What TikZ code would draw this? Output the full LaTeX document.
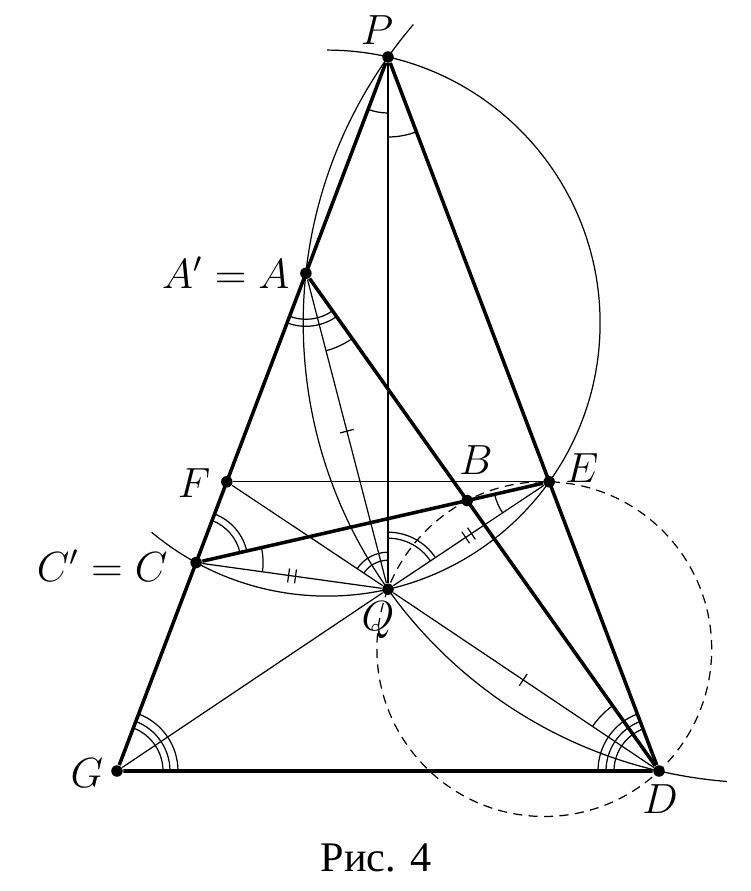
\documentclass[tikz,border=0pt]{standalone}
\usepackage{fontspec}
\newfontfamily\cyrfont{Liberation Serif}
\usetikzlibrary{positioning,angles,decorations.markings}

\begin{document}
\begin{tikzpicture}[line width=0.35pt,
	dot/.style={circle,fill,inner sep=0pt,minimum size=0.115cm},
	thickline/.style={line width=1pt},
	lbl/.style={inner sep=0pt,anchor=base,font=\large},
	onetick/.style={postaction={decorate,decoration={markings,
		mark=at position 0.5 with {\draw (0,-0.07) -- (0,0.07);}}}},
	twoticks/.style={postaction={decorate,decoration={markings,
		mark=at position 0.5 with {\draw (-0.035,-0.07) -- (-0.035,0.07)
		                               (0.035,-0.07) -- (0.035,0.07);}}}}]
\useasboundingbox (0,0) rectangle (7.51,8.91);

\node[dot] (P) at (3.88,8.34) {};
\node[dot] (A) at (3.059,6.177) {};
\node[dot] (F) at (2.268,4.092) {};
\node[dot] (E) at (5.492,4.092) {};
\node[dot] (B) at (4.672,3.904) {};
\node[dot] (C) at (1.961,3.284) {};
\node[dot] (Q) at (3.88,3.018) {};
\node[dot] (G) at (1.17,1.20) {};
\node[dot] (D) at (6.59,1.20) {};

\coordinate (O1) at (3.271,5.679);
\coordinate (O2) at (7.630,5.679);
\coordinate (O3) at (5.443,2.419);

\node[lbl] (PLabel) at (3.77,8.46) {$P$};
\node[lbl,anchor=base east] (ALabel) at (2.90,6.03) {$A'=A$};
\node[lbl] (FLabel) at (1.94,3.94) {$F$};
\node[lbl] (BLabel) at (4.76,4.16) {$B$};
\node[lbl] (ELabel) at (5.82,4.09) {$E$};
\node[lbl,anchor=base east] (CLabel) at (1.68,3.10) {$C'=C$};
\node[lbl] (QLabel) at (3.78,2.61) {$Q$};
\node[lbl] (GLabel) at (0.87,1.04) {$G$};
\node[lbl] (DLabel) at (6.60,0.78) {$D$};
\node[lbl] (Caption) at (3.76,0.19) {\cyrfont Рис. 4};

% circles
\draw ([shift={(90:2.73)}]O1) arc[start angle=90, end angle=-130, radius=2.73];
\draw ([shift={(139.5:4.598)}]O2) arc[start angle=139.5, end angle=265.5, radius=4.598];
\draw[dash pattern=on 2.6pt off 1.8pt] (O3) circle[radius=1.674];

% triangle
\draw[thickline] (P) -- (G) -- (D) -- (P);
\draw[thickline] (A) -- (D);
\draw[thickline] (C) -- (E);

\draw (P) -- (Q);
\draw (F) -- (E);
\draw (F) -- (Q);
\draw (G) -- (Q);
\draw[onetick] (A) -- (Q);
\draw[onetick] (Q) -- (D);
\draw[twoticks] (C) -- (Q);
\draw[twoticks] (Q) -- (E);

% angles
\pic[draw, angle radius=0.56cm] {angle=A--P--Q};
\pic[draw, angle radius=0.80cm] {angle=Q--P--E};
\foreach \r in {0.46,0.53}
	\pic[draw, angle radius=\r cm] {angle=G--A--D};
\pic[draw, angle radius=0.80cm] {angle=Q--A--D};
\foreach \r in {0.45,0.52}
	\pic[draw, angle radius=\r cm] {angle=E--C--F};
\pic[draw, angle radius=0.67cm] {angle=Q--C--E};
\foreach \r in {0.29,0.37}
	\pic[draw, angle radius=\r cm] {angle=P--Q--F};
\foreach \r in {0.51,0.57}
	\pic[draw, angle radius=\r cm] {angle=E--Q--P};
\pic[draw, angle radius=0.56cm] {angle=C--E--Q};
\foreach \r in {0.46,0.53,0.61}
	\pic[draw, angle radius=\r cm] {angle=D--G--P};
\foreach \r in {0.45,0.53,0.61}
	\pic[draw, angle radius=\r cm] {angle=E--D--G};
\pic[draw, angle radius=0.80cm] {angle=A--D--Q};
\end{tikzpicture}
\end{document}
